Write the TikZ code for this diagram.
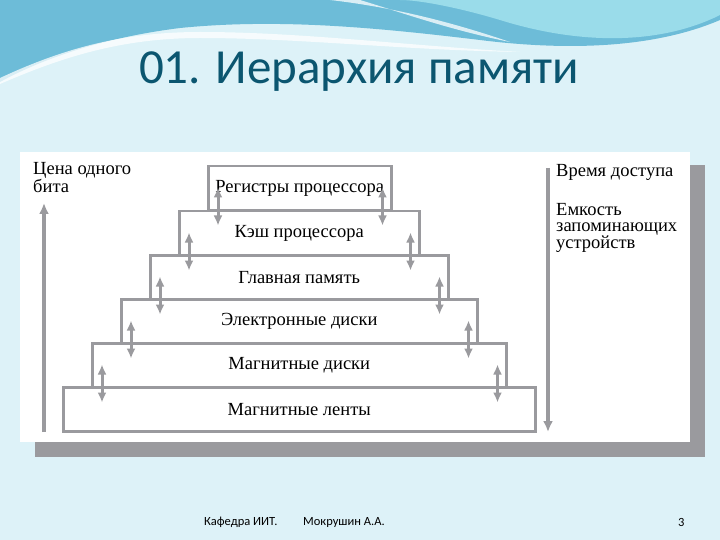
\documentclass[tikz,border=0pt]{standalone}
\usepackage{fontspec}
\setmainfont{Liberation Serif}
\newfontfamily\titlefont{Carlito}
\usetikzlibrary{arrows.meta}
\definecolor{bgc}{HTML}{DDF2F8}
\definecolor{wave1}{HTML}{6DBCD8}
\definecolor{wave2}{HTML}{9ADCEA}
\definecolor{titc}{HTML}{0B5670}
\definecolor{gr}{HTML}{9A9A9E}
\tikzset{
  lvl/.style={draw=gr, line width=2.5pt, fill=white, minimum height=44pt, font=\fontsize{18.5}{20}\selectfont, inner sep=0pt},
  dbl/.style={gr, line width=3pt, {Latex[length=10pt,width=9pt]}-{Latex[length=10pt,width=9pt]}},
  ax/.style={gr, line width=3.5pt, -{Latex[length=11pt,width=10pt]}},
  lab/.style={font=\fontsize{18.5}{16}\selectfont, align=left, anchor=north west, inner sep=0pt},
  foot/.style={font=\titlefont\fontsize{12.5}{13}\selectfont, anchor=west, inner sep=0pt}
}
\begin{document}
\begin{tikzpicture}[x=1pt,y=-1pt]
\useasboundingbox (0,0) rectangle (720,540);
\fill[bgc] (0,0) rectangle (720,540);
% waves
\fill[wave1] (0,0) -- (720,0) -- (720,20) .. controls (650,50) and (560,50) .. (480,40) .. controls (380,28) and (280,18) .. (180,28) .. controls (100,38) and (40,60) .. (0,82) -- cycle;
\fill[wave2] (720,0) -- (720,15) .. controls (660,45) and (580,45) .. (500,20) .. controls (460,8) and (420,0) .. (400,0) -- cycle;
\fill[white,opacity=0.75] (330,0) .. controls (400,8) and (460,25) .. (510,42) .. controls (450,30) and (400,12) .. (360,0) -- cycle;
\fill[white,opacity=0.75] (0,78) .. controls (60,50) and (120,32) .. (200,32) .. controls (300,32) and (400,45) .. (520,52) .. controls (400,50) and (300,38) .. (200,38) .. controls (120,38) and (60,58) .. (0,84) -- cycle;
\node[titc, font=\titlefont\fontsize{49}{49}\selectfont, anchor=center] (title) at (359,72) {01. Иерархия памяти};
% panel
\fill[gr] (35,165) rectangle (705,457);
\fill[white] (20,152) rectangle (690,442);
% levels
\node[lvl, minimum width=183pt, anchor=north west] (b1) at (207,165) {Регистры процессора};
\node[lvl, minimum width=240pt, anchor=north west] (b2) at (178,210) {Кэш процессора};
\node[lvl, minimum width=298pt, anchor=north west] (b3) at (149,254) {Главная память};
\node[lvl, minimum width=356pt, anchor=north west] (b4) at (120,298) {Электронные диски};
\node[lvl, minimum width=414pt, anchor=north west] (b5) at (91,342) {Магнитные диски};
\node[lvl, minimum width=472pt, anchor=north west] (b6) at (62,386) {Магнитные ленты};
% inter-level arrows
\foreach \a/\b in {b1/b2,b2/b3,b3/b4,b4/b5,b5/b6}{
  \coordinate (l1) at ([xshift=11pt,yshift=-14pt]\a.south west);
  \coordinate (l2) at ([xshift=11pt,yshift=24pt]\a.south west);
  \coordinate (r1) at ([xshift=-10pt,yshift=-14pt]\a.south east);
  \coordinate (r2) at ([xshift=-10pt,yshift=24pt]\a.south east);
  \draw[dbl] (l1) -- (l2);
  \draw[dbl] (r1) -- (r2);
}
% axes
\coordinate (c1) at (44,432);
\coordinate (c2) at (44,203);
\draw[ax] (c1) -- (c2);
\coordinate (t1) at (548,168);
\coordinate (t2) at (548,432);
\draw[ax] (t1) -- (t2);
\node[lab] (cena) at (33,162) {Цена одного\\бита};
\node[lab] (vremya) at (556,164) {Время доступа};
\node[lab] (emk) at (556,203) {Емкость\\запоминающих\\устройств};
% footer
\node[foot] (f1) at (204,522) {Кафедра ИИТ.};
\node[foot] (f2) at (303,522) {Мокрушин А.А.};
\node[foot] (f3) at (678,522) {3};
\end{tikzpicture}
\end{document}
